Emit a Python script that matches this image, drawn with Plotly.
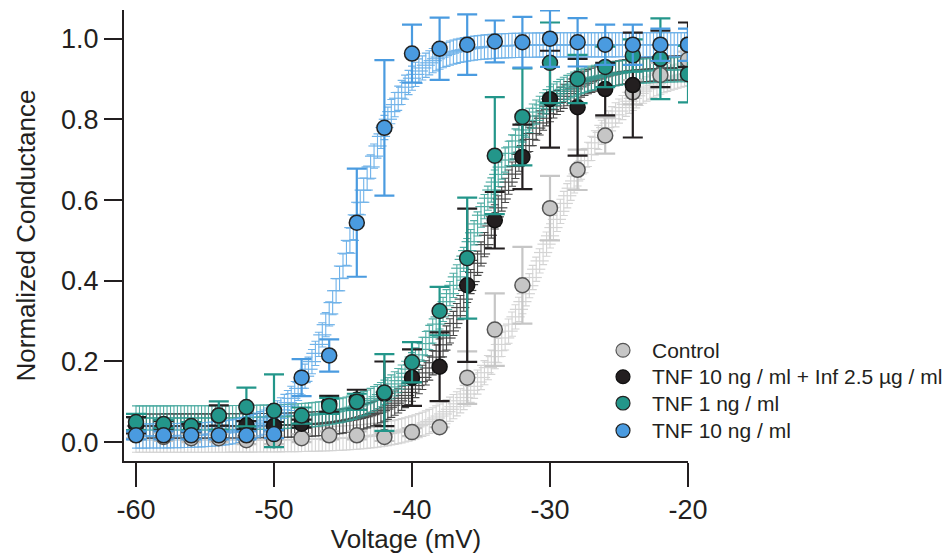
import numpy as np
import plotly.graph_objects as go

# ---- data ----
voltage = [-60, -58, -56, -54, -52, -50, -48, -46, -44, -42, -40,
           -38, -36, -34, -32, -30, -28, -26, -24, -22, -20]

control = [0.020, 0.013, 0.010, 0.010, 0.005, 0.005, 0.010, 0.017, 0.017, 0.013, 0.025,
           0.037, 0.160, 0.279, 0.389, 0.580, 0.675, 0.760, 0.867, 0.910, 0.948]
control_err = [0.01, 0.01, 0.01, 0.01, 0.01, 0.01, 0.01, 0.01, 0.01, 0.01, 0.01,
               0.0, 0.065, 0.09, 0.095, 0.08, 0.05, 0.045, 0.03, 0.03, 0.02]

tnf_inf = [0.042, 0.042, 0.035, 0.066, 0.042, 0.040, 0.046, 0.095, 0.105, 0.120, 0.160,
           0.187, 0.389, 0.550, 0.707, 0.850, 0.830, 0.875, 0.885, 0.950, 0.985]
tnf_inf_err = [0.02, 0.01, 0.01, 0.025, 0.01, 0.01, 0.01, 0.02, 0.025, 0.08, 0.07,
               0.085, 0.19, 0.07, 0.08, 0.12, 0.12, 0.065, 0.13, 0.07, 0.055]

tnf1 = [0.050, 0.045, 0.040, 0.066, 0.087, 0.078, 0.066, 0.090, 0.100, 0.123, 0.198,
        0.325, 0.456, 0.710, 0.806, 0.940, 0.900, 0.930, 0.958, 0.950, 0.912]
tnf1_err = [0.02, 0.01, 0.01, 0.035, 0.048, 0.09, 0.02, 0.02, 0.02, 0.095, 0.05,
            0.06, 0.15, 0.145, 0.12, 0.10, 0.06, 0.05, 0.04, 0.10, 0.07]

tnf10 = [0.017, 0.017, 0.017, 0.017, 0.017, 0.020, 0.160, 0.215, 0.544, 0.779, 0.963,
         0.975, 0.985, 0.993, 0.991, 1.000, 0.991, 0.985, 0.985, 0.985, 0.985]
tnf10_err = [0.01, 0.01, 0.01, 0.01, 0.01, 0.01, 0.046, 0.04, 0.134, 0.168, 0.072,
             0.077, 0.075, 0.052, 0.063, 0.07, 0.06, 0.05, 0.05, 0.04, 0.04]

series_names = ["Control", "TNF 10 ng / ml + Inf 2.5 µg / ml", "TNF 1 ng / ml", "TNF 10 ng / ml"]

# Boltzmann fit parameters
fit_bottom = [0.005, 0.040, 0.060, 0.015]
fit_top = [0.935, 0.930, 0.925, 0.985]
fit_vhalf = [-30.5, -34.8, -35.8, -44.5]
fit_slope = [2.8, 2.4, 2.45, 1.9]

x_ticks = [-60, -50, -40, -30, -20]
y_ticks = [0.0, 0.2, 0.4, 0.6, 0.8, 1.0]

# ---- styling ----
fill_colors = ["#c6c6c6", "#231f20", "#23968a", "#4a9be0"]
err_colors = ["#c6c6c6", "#231f20", "#23968a", "#4a9be0"]
fit_colors = ["#cdcdcd", "#2a2a2a", "#34a095", "#58a6e6"]
outline = ["#555555", "#111111", "#222222", "#222222"]

values = [control, tnf_inf, tnf1, tnf10]
errors = [control_err, tnf_inf_err, tnf1_err, tnf10_err]

W, H = 945, 554
ML, MR, MT, MB = 124, 257, 10, 84
PW, PH = W - ML - MR, H - MT - MB

fig = go.Figure()

fit_v = np.arange(-60.0, -19.99, 0.25)
for i in range(4):
    fy = fit_bottom[i] + (fit_top[i] - fit_bottom[i]) / (1 + np.exp((fit_vhalf[i] - fit_v) / fit_slope[i]))
    fig.add_trace(go.Scatter(
        x=fit_v, y=fy, mode="markers", showlegend=False, hoverinfo="skip",
        marker=dict(symbol="line-ew", size=13, line=dict(color=fit_colors[i], width=1.2)),
        error_y=dict(type="constant", value=0.03, color=fit_colors[i], thickness=1.1, width=4),
        opacity=0.85,
    ))

for i in range(4):
    fig.add_trace(go.Scatter(
        x=voltage, y=values[i], mode="markers", name=series_names[i], showlegend=False,
        marker=dict(symbol="circle", size=15, color=fill_colors[i],
                    line=dict(color=outline[i], width=1.5)),
        error_y=dict(type="data", array=errors[i], color=err_colors[i], thickness=2.2, width=10),
    ))

# manual legend (pixel positions converted to paper coordinates)
def px_x(p):
    return (p - ML) / PW

def px_y(p):
    return (H - MB - p) / PH

legend_rows = [357, 384, 411, 439]
shapes = []
annotations = []
for i, name in enumerate(series_names):
    cy = legend_rows[i]
    r = 7
    shapes.append(dict(type="circle", xref="paper", yref="paper",
                       x0=px_x(623 - r), x1=px_x(623 + r), y0=px_y(cy + r), y1=px_y(cy - r),
                       fillcolor=fill_colors[i], line=dict(color=outline[i], width=1.2)))
    annotations.append(dict(text=name, xref="paper", yref="paper", x=px_x(650), y=px_y(cy),
                            xanchor="left", yanchor="middle", showarrow=False,
                            font=dict(size=21, color="#231f20")))

font_family = "Liberation Sans, Arial, sans-serif"
fig.update_layout(
    width=W, height=H,
    margin=dict(l=ML, r=MR, t=MT, b=MB),
    paper_bgcolor="white", plot_bgcolor="white",
    font=dict(family=font_family, color="#231f20"),
    showlegend=False,
    shapes=shapes, annotations=annotations,
    xaxis=dict(range=[-60.87, -20], tickvals=x_ticks, ticktext=[str(v) for v in x_ticks],
               showgrid=False, zeroline=False, showline=True, linecolor="#231f20", linewidth=2,
               ticks="outside", ticklen=24, tickwidth=2, tickcolor="#231f20",
               tickfont=dict(size=27), title=dict(text="Voltage (mV)", font=dict(size=26), standoff=0)),
    yaxis=dict(range=[-0.0466, 1.071], tickvals=y_ticks, ticktext=["%.1f" % v for v in y_ticks],
               showgrid=False, zeroline=False, showline=True, linecolor="#231f20", linewidth=2,
               ticks="outside", ticklen=18, tickwidth=2, tickcolor="#231f20",
               tickfont=dict(size=27), title=dict(text="Normalized Conductance", font=dict(size=26), standoff=18)),
)

fig.write_html("out.html", config={"displayModeBar": False},
               post_script="document.body.style.margin='0';")
